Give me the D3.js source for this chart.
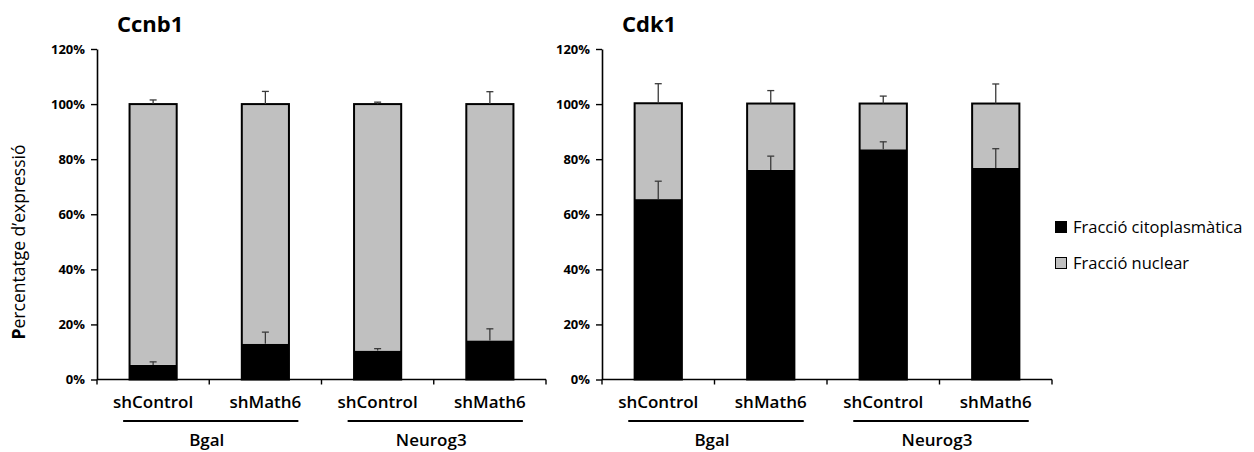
<!DOCTYPE html>
<html>
<head>
<meta charset="utf-8">
<script src="https://cdn.jsdelivr.net/npm/d3@7/dist/d3.min.js"></script>
<style>
  html, body { margin: 0; padding: 0; background: #fff; }
  svg { display: block; font-family: "Open Sans", "Liberation Sans", sans-serif; }
</style>
</head>
<body>
<svg id="chart" width="1254" height="452"></svg>
<script>
// Sample groups and shRNA conditions
const categories = ["shControl", "shMath6", "shControl", "shMath6"];
const groups = ["Bgal", "Neurog3"];
const groupSpans = [[0, 1], [2, 3]];
const yTicks = [0, 20, 40, 60, 80, 100, 120];

// Ccnb1: cytoplasmic / nuclear fractions (%) and error
const ccnb1Cyto = [5.3, 13.0, 10.5, 14.2];
const ccnb1CytoErr = [1.1, 4.2, 0.7, 4.2];
const ccnb1Nuc = [94.7, 87.0, 89.5, 85.8];
const ccnb1NucErr = [1.5, 4.6, 0.7, 4.5];

// Cdk1: cytoplasmic / nuclear fractions (%) and error
const cdk1Cyto = [65.5, 76.1, 83.6, 76.8];
const cdk1CytoErr = [6.5, 5.0, 2.7, 7.0];
const cdk1Nuc = [34.8, 24.1, 16.6, 23.4];
const cdk1NucErr = [7.1, 4.7, 2.7, 7.1];

const seriesNames = ["Fracció citoplasmàtica", "Fracció nuclear"];
const seriesColors = ["#000000", "#c0c0c0"];

const svg = d3.select("#chart");

function drawPanel(opts) {
  const { title, cyto, cytoErr, nuc, nucErr, x0, x1, yLabel } = opts;
  const top = 49, bottom = 379.5;

  const x = d3.scaleBand().domain(d3.range(categories.length)).range([x0, x1]).padding(0);
  const y = d3.scaleLinear().domain([0, 120]).range([bottom, top]);
  const barW = x.bandwidth() * 0.42;

  const g = svg.append("g");

  // Title
  g.append("text")
    .attr("x", x0 + 20).attr("y", 32)
    .attr("font-size", 22).attr("font-weight", "bold")
    .attr("fill", "#000")
    .text(title);

  // Stacked segments
  const stack = categories.map((c, i) => ({
    i, cyto: cyto[i], nuc: nuc[i], cytoErr: cytoErr[i], nucErr: nucErr[i]
  }));

  const bars = g.selectAll("g.bar").data(stack).join("g").attr("class", "bar");
  bars.append("rect")
    .attr("x", d => x(d.i) + (x.bandwidth() - barW) / 2)
    .attr("width", barW)
    .attr("y", d => y(d.cyto))
    .attr("height", d => y(0) - y(d.cyto))
    .attr("fill", seriesColors[0]);
  bars.append("rect")
    .attr("x", d => x(d.i) + (x.bandwidth() - barW) / 2)
    .attr("width", barW)
    .attr("y", d => y(d.cyto + d.nuc))
    .attr("height", d => y(d.cyto) - y(d.cyto + d.nuc))
    .attr("fill", seriesColors[1]);
  // Outline around the whole stack
  bars.append("rect")
    .attr("x", d => x(d.i) + (x.bandwidth() - barW) / 2)
    .attr("width", barW)
    .attr("y", d => y(d.cyto + d.nuc))
    .attr("height", d => y(0) - y(d.cyto + d.nuc))
    .attr("fill", "none")
    .attr("stroke", "#000")
    .attr("stroke-width", 2);

  // Error bars (upper only)
  const errs = [];
  stack.forEach(d => {
    errs.push({ i: d.i, base: d.cyto, err: d.cytoErr });
    errs.push({ i: d.i, base: d.cyto + d.nuc, err: d.nucErr });
  });
  const eg = g.selectAll("g.err").data(errs).join("g").attr("class", "err")
    .attr("stroke", "#3a3a3a").attr("stroke-width", 1.3);
  eg.append("line")
    .attr("x1", d => x(d.i) + x.bandwidth() / 2)
    .attr("x2", d => x(d.i) + x.bandwidth() / 2)
    .attr("y1", d => y(d.base))
    .attr("y2", d => y(d.base + d.err));
  eg.append("line")
    .attr("x1", d => x(d.i) + x.bandwidth() / 2 - 3.5)
    .attr("x2", d => x(d.i) + x.bandwidth() / 2 + 3.5)
    .attr("y1", d => y(d.base + d.err))
    .attr("y2", d => y(d.base + d.err));

  // Y axis
  const yAxis = d3.axisLeft(y).tickValues(yTicks).tickFormat(d => d + "%").tickSizeOuter(0).tickSizeInner(6).tickPadding(6);
  const ya = g.append("g").attr("transform", `translate(${x0},0)`).call(yAxis);
  ya.select(".domain").attr("stroke", "#000").attr("stroke-width", 1.6);
  ya.selectAll(".tick line").attr("stroke", "#000").attr("stroke-width", 1.4);
  ya.selectAll(".tick text")
    .attr("font-size", 13).attr("font-weight", "bold").attr("fill", "#000")
    .attr("font-family", "'Open Sans', sans-serif");

  // X axis line with ticks at category boundaries
  g.append("line")
    .attr("x1", x0).attr("x2", x1)
    .attr("y1", y(0)).attr("y2", y(0))
    .attr("stroke", "#000").attr("stroke-width", 1.6);
  const bounds = d3.range(categories.length + 1).map(i => i < categories.length ? x(i) : x1);
  g.selectAll("line.xtick").data(bounds).join("line").attr("class", "xtick")
    .attr("x1", d => d).attr("x2", d => d)
    .attr("y1", y(0)).attr("y2", y(0) + 5)
    .attr("stroke", "#000").attr("stroke-width", 1.4);

  // Category labels
  g.selectAll("text.cat").data(categories).join("text").attr("class", "cat")
    .attr("x", (d, i) => x(i) + x.bandwidth() / 2)
    .attr("y", 408)
    .attr("text-anchor", "middle")
    .attr("font-size", 17).attr("font-weight", 600).attr("fill", "#000")
    .text(d => d);

  // Group underlines and labels
  groups.forEach((grp, k) => {
    const [a, b] = groupSpans[k];
    const xa = x(a) + x.bandwidth() / 2 - 30;
    const xb = x(b) + x.bandwidth() / 2 + 33;
    g.append("line")
      .attr("x1", xa).attr("x2", xb)
      .attr("y1", 421).attr("y2", 421)
      .attr("stroke", "#000").attr("stroke-width", 2);
    g.append("text")
      .attr("x", (xa + xb) / 2 - 4).attr("y", 446)
      .attr("text-anchor", "middle")
      .attr("font-size", 17).attr("font-weight", 600).attr("fill", "#000")
      .text(grp);
  });

  if (yLabel) {
    const t = svg.append("text")
      .attr("transform", `translate(25,${242}) rotate(-90)`)
      .attr("text-anchor", "middle")
      .attr("font-size", 17.5).attr("fill", "#000");
    t.append("tspan").attr("font-weight", "bold").text(yLabel[0]);
    t.append("tspan").text(yLabel.slice(1));
  }
}

drawPanel({
  title: "Ccnb1", cyto: ccnb1Cyto, cytoErr: ccnb1CytoErr, nuc: ccnb1Nuc, nucErr: ccnb1NucErr,
  x0: 97, x1: 546, yLabel: "Percentatge d\u2019expressió"
});
drawPanel({
  title: "Cdk1", cyto: cdk1Cyto, cytoErr: cdk1CytoErr, nuc: cdk1Nuc, nucErr: cdk1NucErr,
  x0: 602, x1: 1052
});

// Legend
const legend = svg.append("g").attr("transform", "translate(1055,221)");
const li = legend.selectAll("g").data(seriesNames).join("g")
  .attr("transform", (d, i) => `translate(0,${i * 36})`);
li.append("rect")
  .attr("x", 0.5).attr("y", 0.5).attr("width", 11).attr("height", 11)
  .attr("fill", (d, i) => seriesColors[i])
  .attr("stroke", "#000").attr("stroke-width", 1);
li.append("text")
  .attr("x", 18).attr("y", 11.5)
  .attr("font-size", 16.5).attr("fill", "#000")
  .text(d => d);
</script>
</body>
</html>
